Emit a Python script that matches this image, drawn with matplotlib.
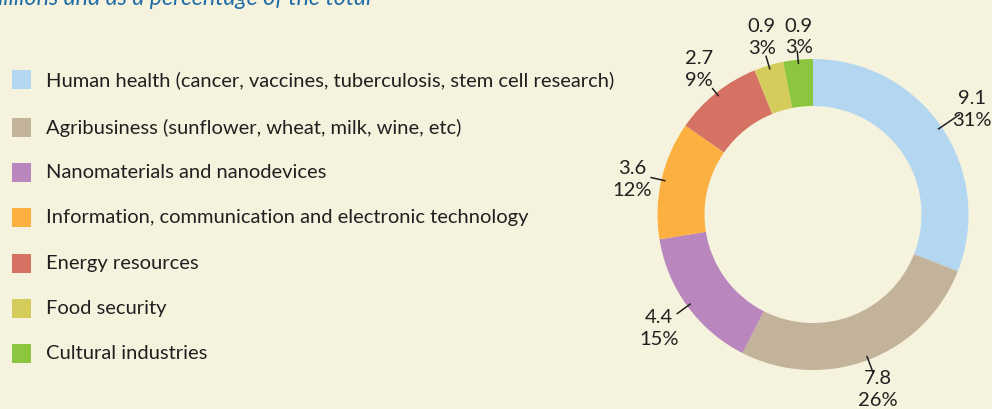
import matplotlib
matplotlib.use("Agg")
import matplotlib.pyplot as plt
import numpy as np
from matplotlib.patches import Rectangle

categories = [
    "Human health (cancer, vaccines, tuberculosis, stem cell research)",
    "Agribusiness (sunflower, wheat, milk, wine, etc)",
    "Nanomaterials and nanodevices",
    "Information, communication and electronic technology",
    "Energy resources",
    "Food security",
    "Cultural industries",
]
values = [9.1, 7.8, 4.4, 3.6, 2.7, 0.9, 0.9]
value_labels = ["9.1", "7.8", "4.4", "3.6", "2.7", "0.9", "0.9"]
pct_labels = ["31%", "26%", "15%", "12%", "9%", "3%", "3%"]
colors = ["#B3D7F0", "#C4B39B", "#B987BD", "#FBB040", "#D57263", "#D4CC5A", "#8CC63F"]
title_text = "millions and as a percentage of the total"

BG = "#F5F2DE"
TXT = "#231F20"
W, H = 992, 410
fig = plt.figure(figsize=(W / 100, H / 100), dpi=100, facecolor=BG)
ax = fig.add_axes([0, 0, 1, 1])
ax.set_xlim(0, W)
ax.set_ylim(0, H)
ax.axis("off")
ax.set_facecolor(BG)

font = "Lato"
renderer = fig.canvas.get_renderer()

# title (cut at top, as in the reference)
probe = ax.text(0, 0, title_text[1:], fontsize=10, style="italic", family=font)
wrest = probe.get_window_extent(renderer).width
probe.remove()
tsize = 10 * 367 / wrest
probe = ax.text(0, 0, "m", fontsize=tsize, style="italic", family=font)
wm = probe.get_window_extent(renderer).width
probe.remove()
ax.text(3 - wm, H - 5, title_text, fontsize=tsize, style="italic", color="#1F6DA6",
        family=font, va="baseline", ha="left")

# donut
cx, cy, R, width = 813, H - 215.5, 155.5, 47
wedges, _ = ax.pie(values, colors=colors, startangle=90, counterclock=False,
                   radius=R, center=(cx, cy),
                   wedgeprops=dict(width=width, edgecolor="none"))
ax.set_xlim(0, W)
ax.set_ylim(0, H)
ax.set_aspect("equal")

label_r = [191, 186, 191, 184, 185, 185, 179]
label_dang = [-0.5, -0.3, 0.2, 1.6, -0.6, -0.5, -1.0]
line_out = [177, 169, 168, 166, 161, 165, 164]
for w, v, p, lr, da, lo in zip(wedges, value_labels, pct_labels, label_r, label_dang, line_out):
    mid = (w.theta1 + w.theta2) / 2
    ang = np.deg2rad(mid)
    ca, sa = np.cos(ang), np.sin(ang)
    ax.plot([cx + 152 * ca, cx + lo * ca],
            [cy + 152 * sa, cy + lo * sa], color=TXT, lw=1.1)
    la = np.deg2rad(mid + da)
    ax.text(cx + lr * np.cos(la), cy + lr * np.sin(la), v + "\n" + p,
            ha="center", va="center",
            fontsize=14.5, color=TXT, family=font, linespacing=1.32)

# legend
row_y = [80, 128, 173, 218, 264, 309, 354]
for c, lab, yy in zip(colors, categories, row_y):
    ax.add_patch(Rectangle((12, H - yy - 9.5), 19, 19, facecolor=c, edgecolor="none"))
    ax.text(46, H - yy, lab, fontsize=14.5, color=TXT, family=font,
            va="center", ha="left")

fig.savefig("out.png", dpi=100, facecolor=BG)
